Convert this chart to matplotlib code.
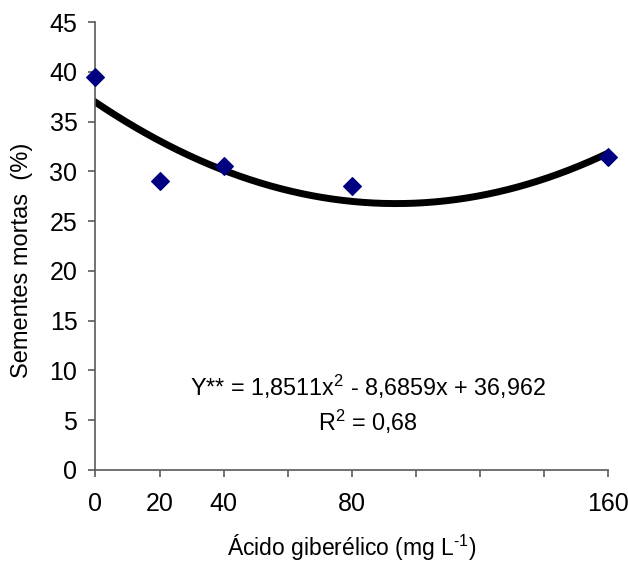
import matplotlib
matplotlib.use("Agg")
import matplotlib.pyplot as plt
import numpy as np

plt.rcParams["font.family"] = ["Liberation Sans", "DejaVu Sans"]
plt.rcParams["mathtext.fontset"] = "custom"
plt.rcParams["mathtext.rm"] = "Liberation Sans"
plt.rcParams["mathtext.it"] = "Liberation Sans"

# data
dose = [0, 20, 40, 80, 160]
mortas = [39.5, 29.0, 30.5, 28.5, 31.5]
# trendline coefficients shown on the chart (x = dose / 40)
coef = [1.8511, -8.6859, 36.962]
xticks_major = [0, 20, 40, 80, 160]

fig = plt.figure(figsize=(6.28, 5.69), dpi=100)
ax = fig.add_axes([0.152, 0.174, 0.816, 0.787])

xs = np.linspace(0, 160, 200)
ax.plot(xs, np.polyval(coef, xs / 40), color="black", lw=5, zorder=2)
ax.scatter(dose, mortas, marker="D", s=80, color="#000080", zorder=3, clip_on=False)

ax.set_xlim(0, 160)
ax.set_ylim(0, 45)
ax.set_yticks(np.arange(0, 46, 5))
ax.set_xticks(np.arange(0, 161, 20))
ax.set_xticklabels([str(v) if v in xticks_major else "" for v in range(0, 161, 20)])

for s in ["top", "right"]:
    ax.spines[s].set_visible(False)
for s in ["left", "bottom"]:
    ax.spines[s].set_color("#5a5a5a")
    ax.spines[s].set_linewidth(1.2)
ax.tick_params(axis="both", direction="out", length=5, width=1.2, color="#5a5a5a",
               labelsize=18, pad=8)
ax.tick_params(axis="x", pad=11)

ax.set_xlabel("Ácido giberélico (mg L$^{\\text{-1}}$)", fontsize=16.5, va="top")
ax.xaxis.set_label_coords(0.5, -0.14)
ax.set_ylabel("Sementes mortas  (%)", fontsize=17)
ax.yaxis.set_label_coords(-0.122, 0.469)

ax.text(0.532, 0.185, "Y** = 1,8511x$^{\\mathregular{2}}$ - 8,6859x + 36,962", transform=ax.transAxes,
        ha="center", va="center", fontsize=16.8)
ax.text(0.532, 0.107, "R$^{\\mathregular{2}}$ = 0,68", transform=ax.transAxes,
        ha="center", va="center", fontsize=16.8)

fig.savefig("out.png", dpi=100)
